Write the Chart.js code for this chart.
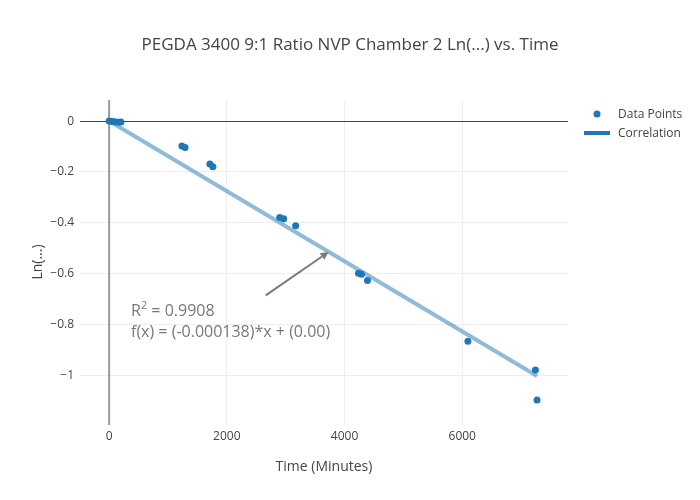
<!DOCTYPE html>
<html><head><meta charset="utf-8">
<script src="https://cdn.jsdelivr.net/npm/chart.js@4"></script>
<style>html,body{margin:0;padding:0;background:#fff}#c{display:block}</style>
</head><body>
<canvas id="c" width="700" height="500"></canvas>
<script>
const chartTitle = 'PEGDA 3400 9:1 Ratio NVP Chamber 2 Ln(...) vs. Time';
const xTitle = 'Time (Minutes)';
const yTitle = 'Ln(...)';
const timeMinutes = [0, 50, 100, 160, 200, 1237, 1290, 1712, 1763, 2898, 2966, 3169, 4237, 4288, 4390, 6096, 7243, 7271];
const lnValues = [0, -0.002, -0.003, -0.005, -0.004, -0.098, -0.104, -0.169, -0.180, -0.379, -0.384, -0.412, -0.599, -0.603, -0.627, -0.866, -0.980, -1.098];
const fitX = [0, 7271];
const fitY = [0, -1.003];
const xTicks = [0, 2000, 4000, 6000];
const yTicks = [0, -0.2, -0.4, -0.6, -0.8, -1];
const annotLines = ['R', '2', ' = 0.9908', 'f(x) = (-0.000138)*x + (0.00)'];
const arrowTail = {x: 2661, y: -0.686};
const arrowHead = {x: 3729, y: -0.515};
const legendLabels = ['Data Points', 'Correlation'];

const FONT = '"Open Sans", sans-serif';
const PLOT = {left: 80, right: 568, top: 100, bottom: 425};

const overlay = {
  id: 'overlay',
  beforeDatasetsDraw(chart) {
    const ctx = chart.ctx, xs = chart.scales.x, ys = chart.scales.y;
    ctx.save();
    const y0 = Math.round(ys.getPixelForValue(0)) + 0.5;
    ctx.strokeStyle = '#444'; ctx.lineWidth = 1;
    ctx.beginPath(); ctx.moveTo(PLOT.left, y0); ctx.lineTo(PLOT.right, y0); ctx.stroke();
    const x0 = xs.getPixelForValue(0);
    ctx.strokeStyle = '#999'; ctx.lineWidth = 2;
    ctx.beginPath(); ctx.moveTo(x0, PLOT.top); ctx.lineTo(x0, PLOT.bottom); ctx.stroke();
    ctx.restore();
  },
  afterDraw(chart) {
    const ctx = chart.ctx, xs = chart.scales.x, ys = chart.scales.y;
    ctx.save();
    ctx.fillStyle = '#444';
    ctx.textBaseline = 'middle';
    ctx.font = '17px ' + FONT; ctx.textAlign = 'center';
    ctx.fillText(chartTitle, 350, 45);
    ctx.font = '14px ' + FONT;
    ctx.fillText(xTitle, 324, 467);
    ctx.save(); ctx.translate(38, 262); ctx.rotate(-Math.PI / 2);
    ctx.fillText(yTitle, 0, 0); ctx.restore();
    const tx = xs.getPixelForValue(arrowTail.x), ty = ys.getPixelForValue(arrowTail.y);
    const hx = xs.getPixelForValue(arrowHead.x), hy = ys.getPixelForValue(arrowHead.y);
    const ang = Math.atan2(hy - ty, hx - tx);
    ctx.strokeStyle = '#7a7a7a'; ctx.fillStyle = '#7a7a7a'; ctx.lineWidth = 2;
    const bx = hx - 8 * Math.cos(ang), by = hy - 8 * Math.sin(ang);
    ctx.beginPath(); ctx.moveTo(tx, ty); ctx.lineTo(bx, by); ctx.stroke();
    ctx.beginPath(); ctx.moveTo(hx, hy);
    ctx.lineTo(bx + 4 * Math.cos(ang + Math.PI / 2), by + 4 * Math.sin(ang + Math.PI / 2));
    ctx.lineTo(bx + 4 * Math.cos(ang - Math.PI / 2), by + 4 * Math.sin(ang - Math.PI / 2));
    ctx.closePath(); ctx.fill();
    ctx.fillStyle = '#777';
    ctx.textAlign = 'left'; ctx.textBaseline = 'alphabetic';
    ctx.font = '16px ' + FONT;
    let x = 131;
    ctx.fillText(annotLines[0], x, 316); x += ctx.measureText(annotLines[0]).width;
    ctx.font = '11px ' + FONT;
    ctx.fillText(annotLines[1], x, 309); x += ctx.measureText(annotLines[1]).width;
    ctx.font = '16px ' + FONT;
    ctx.fillText(annotLines[2], x, 316);
    ctx.fillText(annotLines[3], 131, 337);
    ctx.fillStyle = '#1f77b4';
    ctx.beginPath(); ctx.arc(597, 114, 3.5, 0, Math.PI * 2); ctx.fill();
    ctx.strokeStyle = '#1f77b4'; ctx.lineWidth = 4;
    ctx.beginPath(); ctx.moveTo(584, 133); ctx.lineTo(610, 133); ctx.stroke();
    ctx.fillStyle = '#444'; ctx.font = '12px ' + FONT; ctx.textBaseline = 'middle';
    ctx.fillText(legendLabels[0], 618, 115);
    ctx.fillText(legendLabels[1], 618, 134);
    ctx.restore();
  }
};

new Chart(document.getElementById('c'), {
  type: 'scatter',
  data: {
    datasets: [
      {
        label: legendLabels[1],
        type: 'line',
        data: fitX.map((v, i) => ({x: v, y: fitY[i]})),
        borderColor: 'rgba(31,119,180,0.5)',
        borderWidth: 4,
        pointRadius: 0,
        fill: false,
        order: 2
      },
      {
        label: legendLabels[0],
        data: timeMinutes.map((v, i) => ({x: v, y: lnValues[i]})),
        backgroundColor: '#1f77b4',
        borderColor: '#1f77b4',
        borderWidth: 0,
        pointRadius: 3.5,
        order: 1
      }
    ]
  },
  options: {
    responsive: false,
    animation: false,
    layout: {padding: {top: PLOT.top, right: 700 - PLOT.right, bottom: 0, left: 0}},
    plugins: {legend: {display: false}, tooltip: {enabled: false}, title: {display: false}},
    scales: {
      x: {
        type: 'linear', min: -495, max: 7797,
        afterBuildTicks: s => { s.ticks = xTicks.map(v => ({value: v})); },
        afterFit: s => { s.height = 500 - PLOT.bottom; },
        grid: {color: c => c.tick && c.tick.value === 0 ? 'rgba(0,0,0,0)' : '#eee', lineWidth: 1, drawTicks: false},
        border: {display: false},
        ticks: {color: '#444', font: {family: FONT, size: 12}, padding: 4, maxRotation: 0,
          callback: v => String(v)}
      },
      y: {
        type: 'linear', min: -1.196, max: 0.083,
        afterBuildTicks: s => { s.ticks = yTicks.map(v => ({value: v})); },
        afterFit: s => { s.width = PLOT.left; },
        grid: {color: c => c.tick && c.tick.value === 0 ? 'rgba(0,0,0,0)' : '#eee', lineWidth: 1, drawTicks: false},
        border: {display: false},
        ticks: {color: '#444', font: {family: FONT, size: 12}, padding: 6,
          callback: v => v === 0 ? '0' : (v === -1 ? '\u22121' : '\u2212' + Math.abs(v).toFixed(1))}
      }
    }
  },
  plugins: [overlay]
});
</script>
</body></html>
